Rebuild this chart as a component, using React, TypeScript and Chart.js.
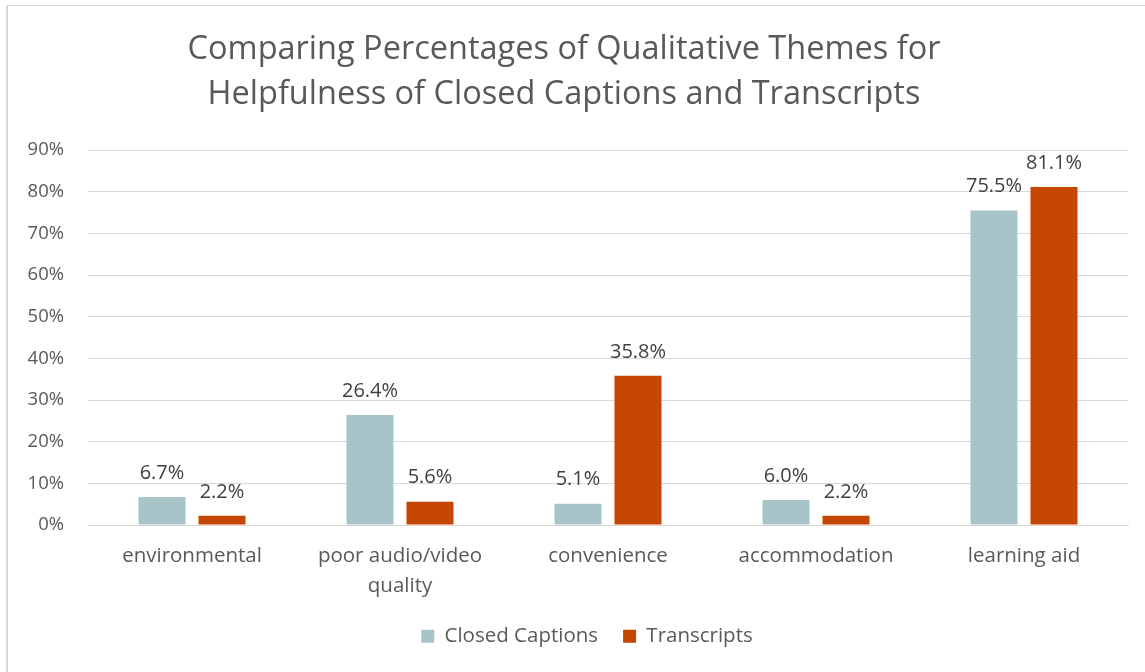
import React, { useEffect, useRef } from "react";
import { Chart, registerables } from "chart.js";

Chart.register(...registerables);

const categories: (string | string[])[] = [
  "environmental",
  ["poor audio/video", "quality"],
  "convenience",
  "accommodation",
  "learning aid",
];
const closedCaptions = [6.7, 26.4, 5.1, 6.0, 75.5];
const transcripts = [2.2, 5.6, 35.8, 2.2, 81.1];
const seriesNames = ["Closed Captions", "Transcripts"];
const titleLines = [
  "Comparing Percentages of Qualitative Themes for",
  "Helpfulness of Closed Captions and Transcripts",
];

const FONT = "'Open Sans', Lato, sans-serif";
const W = 1165;
const H = 672;

const framePlugin = {
  id: "frame",
  beforeDraw(chart: any) {
    const ctx = chart.ctx;
    ctx.save();
    ctx.fillStyle = "#ffffff";
    ctx.fillRect(0, 0, chart.width, chart.height);
    ctx.fillStyle = "#d9d9d9";
    ctx.fillRect(6, 5, 2, chart.height);
    ctx.fillRect(6, 5, chart.width, 1);
    ctx.restore();
  },
};

const legendShiftPlugin = {
  id: "legendShift",
  afterLayout(chart: any) {
    const lg = chart.legend;
    if (lg) {
      lg.left += 23;
      lg.right += 23;
    }
  },
};

const labelPlugin = {
  id: "valueLabels",
  afterDatasetsDraw(chart: any) {
    const ctx = chart.ctx;
    ctx.save();
    ctx.font = `20px ${FONT}`;
    ctx.fillStyle = "#404040";
    ctx.textAlign = "center";
    ctx.textBaseline = "middle";
    chart.data.datasets.forEach((ds: any, i: number) => {
      const meta = chart.getDatasetMeta(i);
      meta.data.forEach((bar: any, j: number) => {
        const v = ds.data[j];
        ctx.fillText(v.toFixed(1) + "%", bar.x, bar.y - 24);
      });
    });
    ctx.restore();
  },
};

export default function App() {
  const ref = useRef<HTMLCanvasElement>(null);
  useEffect(() => {
    document.body.style.margin = "0";
    const canvas = ref.current!;
    const chart = new Chart(canvas, {
      type: "bar",
      data: {
        labels: categories,
        datasets: [
          {
            label: seriesNames[0],
            data: closedCaptions,
            backgroundColor: "#a9c4c8",
            categoryPercentage: 0.577,
            barPercentage: 0.783,
          },
          {
            label: seriesNames[1],
            data: transcripts,
            backgroundColor: "#c44600",
            categoryPercentage: 0.577,
            barPercentage: 0.783,
          },
        ],
      },
      options: {
        responsive: false,
        animation: false,
        layout: { padding: { left: 0, right: 37, top: 0, bottom: 15.5 } },
        plugins: {
          title: {
            display: true,
            text: titleLines,
            color: "#595959",
            font: { family: FONT, size: 32.5, weight: "normal", lineHeight: "45px" },
            padding: { top: 27.5, bottom: 32.5 },
          },
          legend: {
            position: "bottom",
            labels: {
              color: "#595959",
              font: { family: FONT, size: 20.5 },
              boxWidth: 13,
              boxHeight: 13,
              padding: 25,
            },
          },
          tooltip: { enabled: false },
        },
        scales: {
          x: {
            grid: { display: false, drawTicks: false },
            border: { display: true, color: "#d9d9d9", width: 1 },
            ticks: {
              color: "#595959",
              font: { family: FONT, size: 20.5, lineHeight: "30px" },
              padding: 16,
              maxRotation: 0,
              autoSkip: false,
            },
            afterFit(scale: any) {
              scale.height = 76;
            },
          },
          y: {
            min: 0,
            max: 90,
            grid: { color: "#d9d9d9", drawTicks: false },
            border: { display: false },
            ticks: {
              stepSize: 10,
              color: "#595959",
              font: { family: FONT, size: 18.5 },
              padding: 24,
              callback: (v: any) => v + "%",
            },
            afterFit(scale: any) {
              scale.width = 88;
            },
          },
        },
      },
      plugins: [framePlugin, legendShiftPlugin, labelPlugin],
    });
    return () => chart.destroy();
  }, []);
  return (
    <div style={{ position: "fixed", left: 0, top: 0, width: 1145, height: 672, overflow: "hidden", background: "#fff" }}>
      <canvas ref={ref} width={W} height={H} style={{ display: "block", width: W, height: H }} />
    </div>
  );
}
